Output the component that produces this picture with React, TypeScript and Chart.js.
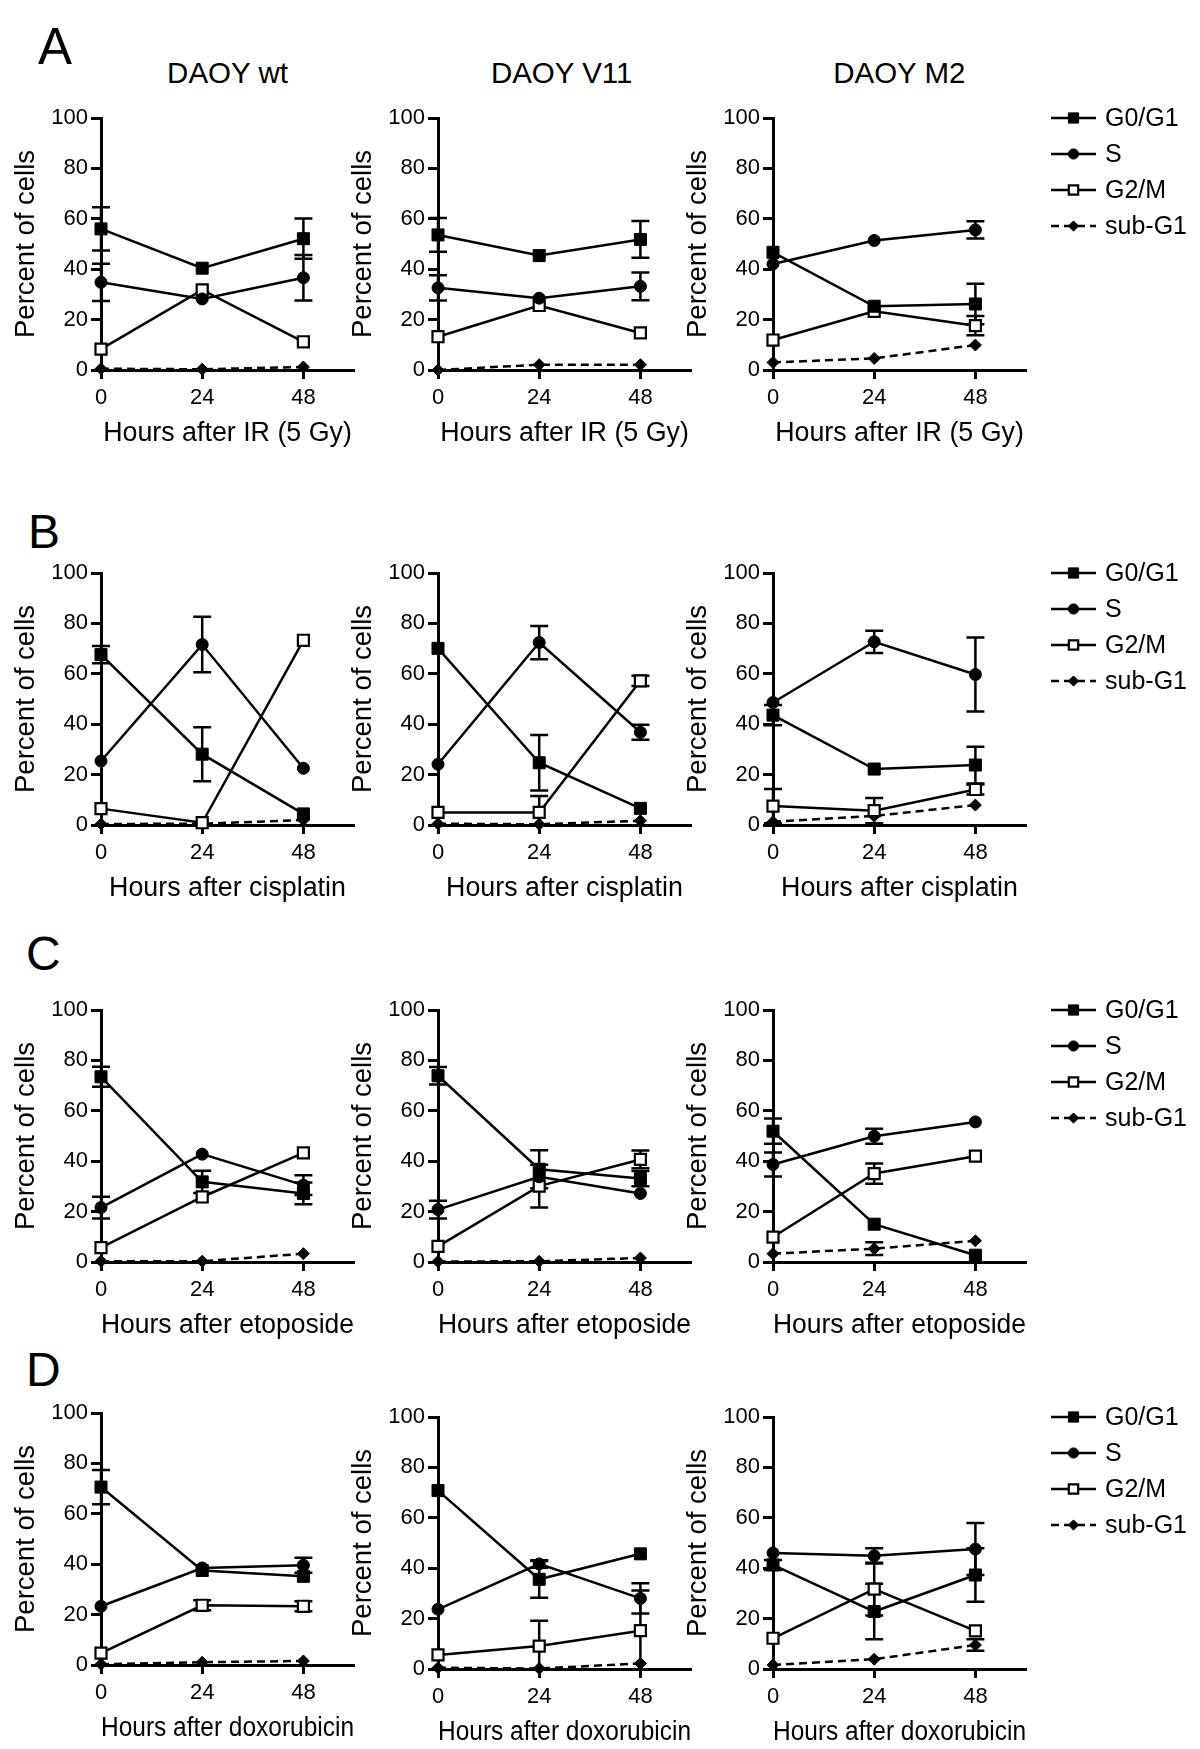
import React, { useEffect, useRef } from 'react';
import { Chart, registerables } from 'chart.js';
import { drawPoint } from 'chart.js/helpers';

Chart.register(...registerables);

const FONT = '"Liberation Sans", Arial, Helvetica, sans-serif';

// ---------- data ----------
const HOURS = [0, 24, 48];
const Y_TICKS = [0, 20, 40, 60, 80, 100];
const PHASES = ['G0/G1', 'S', 'G2/M', 'sub-G1'];
const CELL_LINES = ['DAOY wt', 'DAOY V11', 'DAOY M2'];
const TREATMENTS = ['IR (5 Gy)', 'cisplatin', 'etoposide', 'doxorubicin'];
const ROW_LETTERS = ['A', 'B', 'C', 'D'];

// each: rows = G0/G1, S, G2/M, sub-G1 ; columns = 0, 24, 48 h
const IR_WT_MEAN = [[56.0, 40.4, 52.1], [34.8, 28.2, 36.6], [8.3, 31.8, 11.2], [0.5, 0.3, 1.2]];
const IR_WT_ERR = [[8.6, 0, 8], [7.4, 0, 9], [0, 0, 0], [0, 0, 0]];
const IR_V11_MEAN = [[53.6, 45.4, 51.8], [32.6, 28.5, 33.2], [13.2, 25.6, 14.7], [0, 2.1, 2.1]];
const IR_V11_ERR = [[6.7, 0, 7.3], [5, 0, 5.5], [0, 0, 0], [0, 0, 0]];
const IR_M2_MEAN = [[46.7, 25.3, 26.2], [42.1, 51.4, 55.6], [11.9, 23.3, 17.6], [3.0, 4.6, 9.9]];
const IR_M2_ERR = [[0, 0, 8], [0, 0, 3.4], [0, 0, 3.8], [0, 0, 0]];

const CIS_WT_MEAN = [[67.6, 28.1, 4.4], [25.4, 71.6, 22.5], [6.5, 0.9, 73.3], [0.4, 0.5, 2.0]];
const CIS_WT_ERR = [[3.4, 10.7, 0], [0, 11, 0], [0, 0, 0], [0, 0, 0]];
const CIS_V11_MEAN = [[70.1, 24.7, 6.6], [24.1, 72.4, 36.8], [5.0, 5.0, 57.2], [0.5, 0.3, 1.7]];
const CIS_V11_ERR = [[0, 11, 0], [0, 6.6, 3], [0, 6.5, 2], [0, 0, 0]];
const CIS_M2_MEAN = [[43.6, 22.2, 23.8], [48.6, 72.7, 59.7], [7.5, 5.7, 14.1], [1.3, 3.6, 7.9]];
const CIS_M2_ERR = [[4, 0, 7.3], [0, 4.4, 14.7], [6.8, 5, 2], [0, 0, 0]];

const ETO_WT_MEAN = [[73.5, 31.8, 27.2], [21.6, 42.8, 30.5], [5.7, 25.8, 43.3], [0.3, 0.3, 3.3]];
const ETO_WT_ERR = [[4, 4.4, 4.3], [4.3, 0, 3.9], [0, 0, 0], [0, 0, 0]];
const ETO_V11_MEAN = [[73.9, 36.8, 33.1], [20.8, 33.8, 27.2], [6.2, 30.1, 40.7], [0.2, 0.3, 1.6]];
const ETO_V11_ERR = [[3.5, 7.5, 3], [3.5, 0, 0], [0, 8.5, 3.5], [0, 0, 0]];
const ETO_M2_MEAN = [[51.9, 15.0, 2.7], [38.7, 49.9, 55.6], [9.9, 35.1, 42.0], [3.3, 5.3, 8.4]];
const ETO_M2_ERR = [[5, 0, 0], [4.8, 3, 0], [0, 4, 0], [0, 2.5, 0]];

const DOX_WT_MEAN = [[70.6, 37.5, 35.2], [23.3, 38.5, 39.6], [4.7, 23.7, 23.3], [0.3, 1.1, 1.6]];
const DOX_WT_ERR = [[6.8, 0, 0], [0, 0, 3], [0, 2, 2], [0, 0, 0]];
const DOX_V11_MEAN = [[70.8, 35.6, 45.7], [23.7, 41.7, 28.0], [5.6, 9.1, 15.2], [0.5, 0.2, 2.2]];
const DOX_V11_ERR = [[0, 7.3, 0], [0, 1.5, 6], [0, 10, 16], [0, 0, 0]];
const DOX_M2_MEAN = [[41.3, 22.8, 37.3], [46.0, 44.9, 47.6], [12.2, 31.7, 15.1], [1.6, 3.9, 9.5]];
const DOX_M2_ERR = [[2, 11, 10.6], [0, 3, 10.3], [0, 10.5, 0], [0, 0, 2.3]];

const MEANS = [
  [IR_WT_MEAN, IR_V11_MEAN, IR_M2_MEAN],
  [CIS_WT_MEAN, CIS_V11_MEAN, CIS_M2_MEAN],
  [ETO_WT_MEAN, ETO_V11_MEAN, ETO_M2_MEAN],
  [DOX_WT_MEAN, DOX_V11_MEAN, DOX_M2_MEAN],
];
const ERRS = [
  [IR_WT_ERR, IR_V11_ERR, IR_M2_ERR],
  [CIS_WT_ERR, CIS_V11_ERR, CIS_M2_ERR],
  [ETO_WT_ERR, ETO_V11_ERR, ETO_M2_ERR],
  [DOX_WT_ERR, DOX_V11_ERR, DOX_M2_ERR],
];

// ---------- styles & layout ----------
const LINE_W = 2.5;
const AXIS_W = 3;
const PHASE_STYLE = [
  { pointStyle: 'rect', radius: 8.5, fill: '#000', pointBorder: 1, dash: [] as number[] },
  { pointStyle: 'circle', radius: 6, fill: '#000', pointBorder: 1, dash: [] as number[] },
  { pointStyle: 'rect', radius: 7.8, fill: '#fff', pointBorder: 2.2, dash: [] as number[] },
  { pointStyle: 'rectRot', radius: 6, fill: '#000', pointBorder: 1, dash: [8, 5] },
];

const COL_AXIS_X = [101, 437.7, 773.3];
const ROW_TOP = [
  [117.7, 117.7, 117.7],
  [572.5, 572.5, 572.5],
  [1010, 1010, 1010],
  [1412.7, 1417.3, 1417.3],
];
const PLOT_W = 253;
const PLOT_H = 252;
const Y_AXIS_W = 100;
const X_AXIS_H = 80;
const PAD_TOP = 20;

const LETTER_POS = [
  { left: 38, capTop: 28, size: 51 },
  { left: 28, capTop: 514, size: 48 },
  { left: 26, capTop: 936, size: 48 },
  { left: 26, capTop: 1352, size: 48 },
];
const COL_TITLE_CENTER = [227.5, 561.7, 899.3];
const COL_TITLE_CAP_MID = 72.5;

// ---------- plugins ----------
const errorBars = {
  id: 'errorBars',
  beforeDatasetsDraw(chart: any) {
    const { ctx } = chart;
    const xs = chart.scales.x;
    const ys = chart.scales.y;
    ctx.save();
    ctx.strokeStyle = '#000';
    ctx.lineWidth = LINE_W;
    ctx.setLineDash([]);
    chart.data.datasets.forEach((ds: any) => {
      (ds.errors || []).forEach((e: number, i: number) => {
        if (!e) return;
        const pt = ds.data[i];
        const x = xs.getPixelForValue(pt.x);
        const lo = pt.y - e;
        const yTop = ys.getPixelForValue(pt.y + e);
        const yBot = ys.getPixelForValue(Math.max(lo, 0));
        ctx.beginPath();
        ctx.moveTo(x, yTop);
        ctx.lineTo(x, yBot);
        ctx.moveTo(x - 9, yTop);
        ctx.lineTo(x + 9, yTop);
        if (lo >= 0) {
          ctx.moveTo(x - 9, yBot);
          ctx.lineTo(x + 9, yBot);
        }
        ctx.stroke();
      });
    });
    ctx.restore();
  },
};

const phaseLegend = {
  id: 'phaseLegend',
  afterDraw(chart: any, _args: any, opts: any) {
    if (!opts || !opts.display) return;
    const { ctx, chartArea } = chart;
    const x0 = chartArea.right + 25;
    const lineLen = 45;
    chart.data.datasets.forEach((ds: any, i: number) => {
      const y = chartArea.top + i * 36;
      ctx.save();
      ctx.strokeStyle = '#000';
      ctx.lineWidth = ds.borderWidth;
      ctx.setLineDash(ds.borderDash || []);
      ctx.beginPath();
      ctx.moveTo(x0, y);
      ctx.lineTo(x0 + lineLen, y);
      ctx.stroke();
      ctx.setLineDash([]);
      ctx.fillStyle = ds.pointBackgroundColor;
      ctx.strokeStyle = ds.pointBorderColor;
      ctx.lineWidth = ds.pointBorderWidth;
      drawPoint(
        ctx,
        { pointStyle: ds.pointStyle, radius: ds.pointRadius * 0.85, rotation: 0, borderWidth: ds.pointBorderWidth } as any,
        x0 + lineLen / 2,
        y
      );
      ctx.fillStyle = '#000';
      ctx.font = `25px ${FONT}`;
      ctx.textBaseline = 'middle';
      ctx.textAlign = 'left';
      ctx.fillText(ds.label, x0 + lineLen + 9, y + 1);
      ctx.restore();
    });
  },
};

// ---------- components ----------
function Panel({ row, col }: { row: number; col: number }) {
  const ref = useRef<HTMLCanvasElement>(null);
  const hasLegend = col === 2;
  const padRight = hasLegend ? 185 : 12;
  const width = Math.round(Y_AXIS_W + PLOT_W + padRight);
  const height = PAD_TOP + PLOT_H + X_AXIS_H;
  const left = COL_AXIS_X[col] - Y_AXIS_W;
  const top = ROW_TOP[row][col] - PAD_TOP;

  useEffect(() => {
    const means = MEANS[row][col];
    const errs = ERRS[row][col];
    const datasets = PHASES.map((label, p) => ({
      label,
      data: HOURS.map((h, i) => ({ x: h, y: means[p][i] })),
      errors: errs[p],
      borderColor: '#000',
      backgroundColor: PHASE_STYLE[p].fill,
      borderWidth: LINE_W,
      borderDash: PHASE_STYLE[p].dash,
      pointStyle: PHASE_STYLE[p].pointStyle,
      pointRadius: PHASE_STYLE[p].radius,
      pointHoverRadius: PHASE_STYLE[p].radius,
      pointBackgroundColor: PHASE_STYLE[p].fill,
      pointBorderColor: '#000',
      pointBorderWidth: PHASE_STYLE[p].pointBorder,
      tension: 0,
      fill: false,
      clip: false,
    }));

    const tickFont = { family: FONT, size: 22 };
    const xTitleFont = { family: FONT, size: 26.8, lineHeight: 1 };
    const yTitleFont = { family: FONT, size: 27.5, lineHeight: 1 };

    const chart = new Chart(ref.current as HTMLCanvasElement, {
      type: 'line',
      data: { datasets } as any,
      plugins: [errorBars, phaseLegend] as any,
      options: {
        responsive: false,
        animation: false,
        events: [],
        layout: { padding: { top: PAD_TOP, right: padRight, left: 0, bottom: 0 } },
        scales: {
          x: {
            type: 'linear',
            min: 0,
            max: 60,
            afterBuildTicks: (s: any) => {
              s.ticks = HOURS.map((v) => ({ value: v }));
            },
            afterFit: (s: any) => {
              s.height = X_AXIS_H;
            },
            border: { display: true, color: '#000', width: AXIS_W },
            grid: {
              display: true,
              drawOnChartArea: false,
              drawTicks: true,
              tickLength: 9,
              tickWidth: AXIS_W,
              tickColor: '#000',
              color: '#000',
            },
            ticks: { color: '#000', font: tickFont, padding: 6, maxRotation: 0, autoSkip: false },
            title: {
              display: true,
              text: 'Hours after ' + TREATMENTS[row],
              color: '#000',
              font: xTitleFont,
              padding: { top: 0, bottom: 2.6 },
            },
          },
          y: {
            type: 'linear',
            min: 0,
            max: 100,
            afterBuildTicks: (s: any) => {
              s.ticks = Y_TICKS.map((v) => ({ value: v }));
            },
            afterFit: (s: any) => {
              s.width = Y_AXIS_W;
            },
            border: { display: true, color: '#000', width: AXIS_W },
            grid: {
              display: true,
              drawOnChartArea: false,
              drawTicks: true,
              tickLength: 10,
              tickWidth: AXIS_W,
              tickColor: '#000',
              color: '#000',
            },
            ticks: { color: '#000', font: tickFont, padding: 3 },
            title: {
              display: true,
              text: 'Percent of cells',
              color: '#000',
              font: yTitleFont,
              padding: { top: 11.5, bottom: 0 },
            },
          },
        },
        plugins: {
          legend: { display: false },
          tooltip: { enabled: false },
          phaseLegend: { display: hasLegend },
        } as any,
      } as any,
    });
    return () => chart.destroy();
  }, [row, col]);

  return (
    <canvas
      ref={ref}
      width={width}
      height={height}
      style={{ position: 'absolute', left, top, width, height }}
    />
  );
}

export default function App() {
  const titleSize = 29.5;
  return (
    <div
      style={{
        position: 'absolute',
        left: 0,
        top: 0,
        width: 1200,
        height: 1749,
        background: '#fff',
        fontFamily: FONT,
        color: '#000',
        overflow: 'hidden',
      }}
    >
      {ROW_LETTERS.map((l, r) => (
        <div
          key={l}
          style={{
            position: 'absolute',
            left: LETTER_POS[r].left,
            top: LETTER_POS[r].capTop - 0.1305 * LETTER_POS[r].size,
            fontSize: LETTER_POS[r].size,
            lineHeight: 1,
            whiteSpace: 'nowrap',
          }}
        >
          {l}
        </div>
      ))}
      {CELL_LINES.map((t, c) => (
        <div
          key={t}
          style={{
            position: 'absolute',
            left: COL_TITLE_CENTER[c] - 150,
            width: 300,
            textAlign: 'center',
            top: COL_TITLE_CAP_MID - 0.4885 * titleSize,
            fontSize: titleSize,
            lineHeight: 1,
            whiteSpace: 'nowrap',
          }}
        >
          {t}
        </div>
      ))}
      {TREATMENTS.map((_, r) =>
        CELL_LINES.map((__, c) => <Panel key={`${r}-${c}`} row={r} col={c} />)
      )}
    </div>
  );
}
